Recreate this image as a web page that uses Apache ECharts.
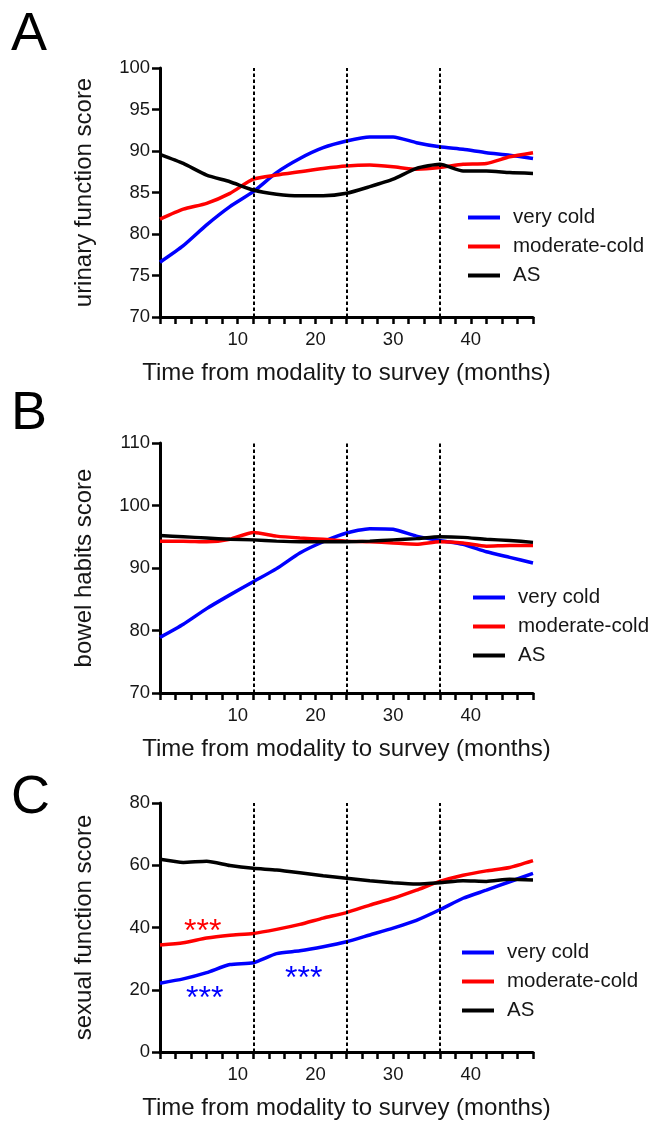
<!DOCTYPE html>
<html>
<head>
<meta charset="utf-8">
<script src="https://cdn.jsdelivr.net/npm/echarts@6/dist/echarts.min.js"></script>
<style>
  html, body { margin: 0; padding: 0; background: #fff; }
  #container { width: 648px; height: 1124px; }
</style>
</head>
<body>
<div id="container"></div>
<script>
// months (x) shared by every panel
const months = [0, 3, 6, 9, 12, 15, 18, 21, 24, 27, 30, 33, 36, 39, 42, 45, 48];
const groupNames = ['very cold', 'moderate-cold', 'AS'];
const groupColors = ['#0000ff', '#ff0000', '#000000'];
// vertical dashed lines
const dashMonths = [12, 24, 36];

// A: urinary function score
const urinaryVeryCold = [76.6, 78.6, 81.1, 83.3, 85.1, 87.4, 89.1, 90.4, 91.2, 91.7, 91.7, 91.0, 90.5, 90.2, 89.8, 89.5, 89.1];
const urinaryModCold  = [81.8, 83.0, 83.7, 84.9, 86.6, 87.1, 87.5, 87.9, 88.2, 88.3, 88.1, 87.8, 88.0, 88.4, 88.5, 89.3, 89.8];
const urinaryAS       = [89.6, 88.5, 87.1, 86.3, 85.3, 84.8, 84.6, 84.6, 84.9, 85.7, 86.6, 87.9, 88.4, 87.6, 87.6, 87.4, 87.3];

// B: bowel habits score
const bowelVeryCold = [78.9, 81.0, 83.5, 85.7, 87.8, 89.9, 92.4, 94.2, 95.6, 96.3, 96.2, 95.1, 94.4, 93.8, 92.6, 91.7, 90.8];
const bowelModCold  = [94.3, 94.3, 94.2, 94.6, 95.7, 95.1, 94.8, 94.6, 94.3, 94.2, 94.0, 93.8, 94.2, 94.0, 93.5, 93.6, 93.6];
const bowelAS       = [95.2, 95.0, 94.8, 94.6, 94.5, 94.3, 94.2, 94.2, 94.2, 94.3, 94.5, 94.7, 95.0, 94.9, 94.6, 94.4, 94.1];

// C: sexual function score
const sexualVeryCold = [22.1, 23.5, 25.5, 28.1, 28.7, 31.6, 32.5, 33.8, 35.4, 37.6, 39.8, 42.3, 45.7, 49.4, 52.0, 54.7, 57.4];
const sexualModCold  = [34.4, 35.1, 36.6, 37.5, 38.1, 39.4, 41.0, 43.0, 44.8, 47.2, 49.4, 52.0, 54.8, 56.8, 58.2, 59.3, 61.5];
const sexualAS       = [61.9, 60.9, 61.3, 59.9, 59.0, 58.5, 57.6, 56.6, 55.8, 55.0, 54.4, 54.0, 54.4, 55.0, 54.8, 55.5, 55.3];

// significance marks on panel C: [month, score, group index]
const starMarks = [[5.5, 38.4, 1], [5.75, 17.0, 0], [18.5, 23.5, 0]];

const panels = [
  { letter: 'A', yName: 'urinary function score', yMin: 70, yMax: 100, yStep: 5,
    values: [urinaryVeryCold, urinaryModCold, urinaryAS] },
  { letter: 'B', yName: 'bowel habits score', yMin: 70, yMax: 110, yStep: 10,
    values: [bowelVeryCold, bowelModCold, bowelAS] },
  { letter: 'C', yName: 'sexual function score', yMin: 0, yMax: 80, yStep: 20,
    values: [sexualVeryCold, sexualModCold, sexualAS] }
];

// layout of each panel (pixels)
const gridTops = [68, 443, 803];
const gridHeights = [249, 250, 249];
const letterTops = [8, 387, 771];
const legendPos = [[468, 207], [473, 587], [462, 942]];

const font = 'Liberation Sans, Arial, Helvetica, sans-serif';
const textColor = '#161616';

const dom = document.getElementById('container');
const myChart = echarts.init(dom, null, { renderer: 'canvas' });

const option = {
  backgroundColor: '#fff',
  animation: false,
  title: panels.map((p, i) => ({
    text: p.letter,
    left: 11,
    top: letterTops[i],
    padding: 0,
    textStyle: { fontFamily: font, fontSize: 54, fontWeight: 'normal', color: '#000' }
  })),
  legend: panels.map((p, i) => ({
    orient: 'vertical',
    left: legendPos[i][0],
    top: legendPos[i][1],
    padding: 0,
    itemGap: 8,
    itemWidth: 32,
    itemHeight: 4,
    icon: 'rect',
    selectedMode: false,
    data: groupNames,
    textStyle: { fontFamily: font, fontSize: 20.5, color: textColor, padding: [0, 0, 0, 8] }
  })),
  grid: panels.map((p, i) => ({
    left: 160,
    top: gridTops[i],
    width: 373,
    height: gridHeights[i]
  })),
  xAxis: panels.map((p, i) => ({
    type: 'value',
    gridIndex: i,
    min: 0,
    max: 48,
    interval: 2,
    name: 'Time from modality to survey (months)',
    nameLocation: 'middle',
    nameGap: 44,
    nameTextStyle: { fontFamily: font, fontSize: 24, color: textColor },
    axisLine: { show: true, onZero: false, lineStyle: { color: '#000', width: 3 } },
    axisTick: { show: true, length: 7, lineStyle: { color: '#000', width: 2.5 } },
    axisLabel: {
      margin: 13,
      fontFamily: font,
      fontSize: 18.5,
      color: textColor,
      formatter: v => (v > 0 && v % 10 === 0 ? String(v) : '')
    },
    splitLine: { show: false }
  })),
  yAxis: panels.map((p, i) => ({
    type: 'value',
    gridIndex: i,
    min: p.yMin,
    max: p.yMax,
    interval: p.yStep,
    name: p.yName,
    nameLocation: 'middle',
    nameGap: 64,
    nameTextStyle: { fontFamily: font, fontSize: 24, color: textColor },
    axisLine: { show: true, onZero: false, lineStyle: { color: '#000', width: 3 } },
    axisTick: { show: true, length: 8, lineStyle: { color: '#000', width: 2.5 } },
    axisLabel: { margin: 10, fontFamily: font, fontSize: 18.5, color: textColor },
    splitLine: { show: false }
  })),
  series: []
};

panels.forEach((p, i) => {
  groupNames.forEach((name, g) => {
    const s = {
      name: name,
      type: 'line',
      xAxisIndex: i,
      yAxisIndex: i,
      data: months.map((m, k) => [m, p.values[g][k]]),
      showSymbol: false,
      symbol: 'none',
      smooth: 0.2,
      lineStyle: { color: groupColors[g], width: 3.5 },
      itemStyle: { color: groupColors[g] },
      z: 3 + g
    };
    if (g === 2) {
      s.markLine = {
        silent: true,
        symbol: 'none',
        label: { show: false },
        lineStyle: { color: '#000', width: 2, type: [3.5, 2.5] },
        data: dashMonths.map(m => ({ xAxis: m }))
      };
    }
    if (i === 2) {
      const marks = starMarks.filter(sm => sm[2] === g);
      if (marks.length) {
        s.markPoint = {
          silent: true,
          symbol: 'circle',
          symbolSize: 1,
          itemStyle: { color: 'rgba(0,0,0,0)' },
          label: {
            show: true,
            position: 'inside',
            formatter: '***',
            fontFamily: font,
            fontSize: 32,
            color: groupColors[g]
          },
          data: marks.map(sm => ({ coord: [sm[0], sm[1]] }))
        };
      }
    }
    option.series.push(s);
  });
});

myChart.setOption(option);
</script>
</body>
</html>
